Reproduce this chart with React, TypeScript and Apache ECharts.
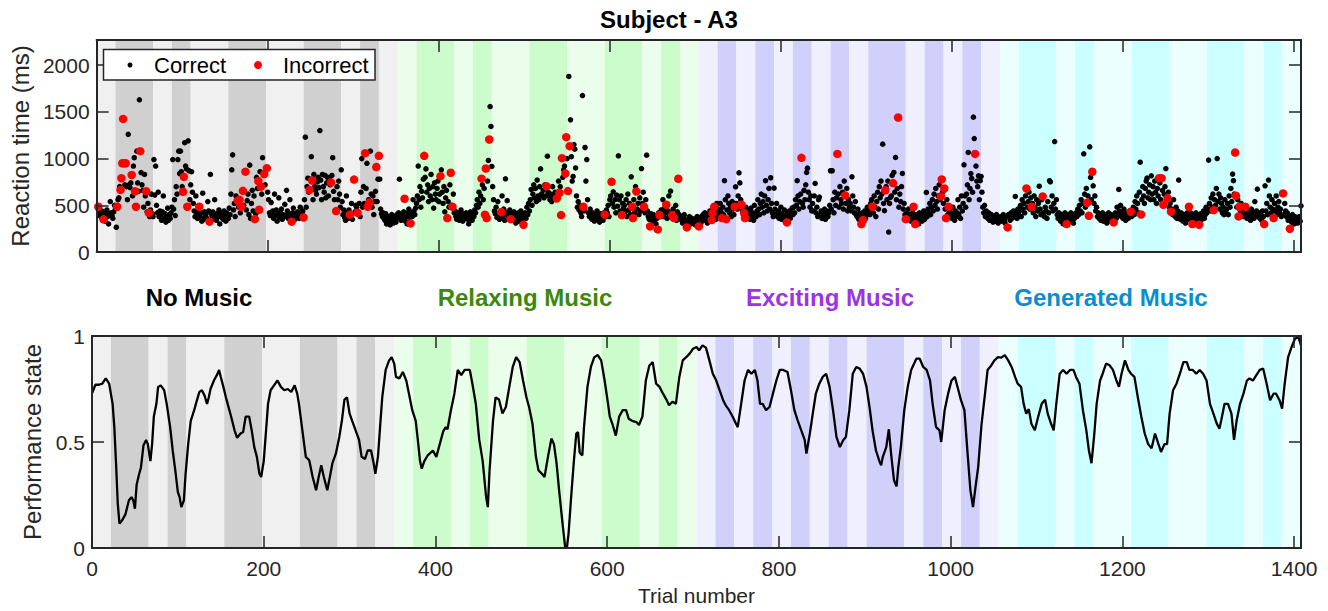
import React, { useEffect, useRef } from "react";
import * as echarts from "echarts";

// ---------- data ----------
const BLOCK_SIZE = 22;
const TOTAL_TRIALS = 1408;
const xTicks = [0, 200, 400, 600, 800, 1000, 1200, 1400];
const rtTicks = [0, 500, 1000, 1500, 2000];
const perfTicks = [0, 0.5, 1];

const conditionNames = ["No Music", "Relaxing Music", "Exciting Music", "Generated Music"];
const conditionColors = ["#000000", "#3b890b", "#9a34e6", "#0a8dd0"];
const bandLight = ["#f0f0f0", "#ebfdeb", "#efeffe", "#ebffff"];
const bandDark = ["#d0d0d0", "#ccfbcc", "#d0d0fb", "#ccffff"];
const bandPatterns = ["LDDLDLLDDLLDDLDL", "LDDLDLLDDLLDDLDL", "LDLDLDLDLDDLDLDL", "LDDLDLLDDLLDDLDL"];

// reaction times (ms), one value per trial, 22 trials per line (block)
const rtNoMusic = [
  470,430,410,390,380,440,420,400,360,330,410,450,380,300,400,540,420,390,360,430,500,470,
  265,480,560,580,700,620,800,950,1420,940,720,930,700,560,1260,720,690,740,830,600,920,1010,
  650,490,1080,740,650,1630,1090,850,720,660,480,830,600,640,430,520,410,380,450,620,410,380,
  990,610,920,500,420,640,380,440,400,340,430,600,360,410,320,380,470,340,400,360,420,480,
  990,460,560,390,700,620,990,1080,840,1080,860,700,650,800,1170,920,890,560,1190,870,560,720,
  860,640,520,440,380,600,420,360,420,490,380,420,330,630,350,430,380,410,360,540,440,330,
  830,410,380,430,350,560,390,340,410,380,450,300,420,370,400,350,440,380,330,420,400,360,
  470,400,620,880,1040,450,520,380,600,550,560,480,560,420,490,660,650,500,860,860,450,550,
  620,400,930,360,520,660,440,600,350,410,800,680,760,450,860,700,620,1010,840,1010,720,900,
  900,640,560,420,390,530,400,440,360,620,390,450,330,410,580,370,420,460,350,400,380,510,
  390,660,440,360,410,560,380,330,420,470,390,350,410,380,430,400,360,480,390,420,440,370,
  560,1230,480,700,790,640,660,780,1020,760,560,830,700,660,620,750,800,690,1300,770,560,830,
  700,640,820,580,740,800,600,780,720,740,820,1010,650,560,440,440,700,560,760,620,480,880,
  540,400,450,370,340,600,420,360,450,400,380,520,350,780,610,430,500,480,420,420,520,380,
  640,1000,480,700,520,1060,680,950,490,560,530,1080,620,480,600,400,540,650,910,540,780,1100,
  780,460,410,380,420,360,340,410,300,350,380,330,290,360,400,340,310,380,350,320,400,370,
];
const rtRelaxing = [
  420,780,380,340,400,360,430,570,330,380,300,420,460,370,306,420,380,560,440,400,470,520,
  600,920,560,700,480,650,580,780,1030,800,890,640,720,540,680,600,830,560,700,470,740,620,
  560,680,760,540,620,810,880,640,520,700,430,580,660,363,540,480,720,850,500,480,620,420,
  440,380,350,420,390,340,400,450,370,330,410,380,360,420,390,350,300,400,430,370,340,410,
  380,450,420,500,560,480,640,520,600,785,720,560,680,400,894,363,760,980,1205,1557,1344,916,
  700,560,440,410,480,370,540,400,350,430,427,600,380,460,340,784,420,550,390,360,450,352,
  410,380,340,430,370,310,400,360,420,330,380,440,350,400,292,380,420,360,480,400,520,440,
  560,670,500,620,720,580,680,540,770,600,560,700,890,620,600,660,580,720,600,705,1026,640,
  600,560,620,540,700,600,580,640,560,574,620,760,634,700,395,1005,800,880,920,841,1230,1000,
  652,1880,1133,1415,1020,760,809,1150,1101,900,600,480,540,450,500,420,380,1675,484,440,1119,760,
  990,560,420,380,460,400,350,420,380,330,400,370,440,350,390,320,410,360,380,340,420,400,
  380,450,420,500,380,560,600,752,520,645,480,560,420,610,490,1030,560,440,600,395,520,470,
  500,430,560,380,620,450,520,400,805,484,363,560,420,700,648,460,520,400,580,440,894,520,
  640,484,420,560,1037,440,380,350,274,410,360,320,400,340,380,300,360,242,420,752,380,450,
  410,560,380,470,420,506,360,440,600,390,652,420,395,460,363,380,500,340,430,784,400,360,
  380,340,310,360,400,330,290,263,350,320,380,340,300,360,330,310,350,290,340,380,320,274,
];
const rtExciting = [
  350,300,380,330,400,360,420,340,380,310,400,360,440,380,342,417,460,484,400,350,520,420,
  460,380,520,430,363,480,400,763,560,352,450,600,520,420,480,380,540,460,400,484,698,520,
  460,600,848,740,560,506,440,417,363,380,480,420,360,440,400,350,470,380,420,340,500,400,
  380,440,560,460,400,520,620,480,540,420,600,763,500,440,560,680,460,795,520,420,380,684,
  460,400,520,380,440,360,420,480,350,400,370,450,330,390,317,420,380,440,360,410,470,400,
  480,420,560,500,763,600,460,540,620,1008,520,480,660,560,720,852,898,640,560,480,600,440,
  520,440,600,734,420,480,380,560,588,400,440,360,420,380,460,350,400,440,380,420,500,870,
  460,870,560,420,640,500,580,1050,620,480,700,560,520,640,460,760,606,520,680,440,560,480,
  520,440,805,600,480,420,540,400,380,460,350,410,370,299,420,342,380,440,360,400,480,420,
  460,400,520,560,484,420,600,480,380,540,640,460,700,580,760,620,1155,520,442,660,700,560,
  760,214,520,585,600,820,738,852,640,1012,560,680,1440,480,620,540,700,841,460,520,400,352,
  420,380,460,350,400,330,380,420,484,360,299,400,340,380,300,420,360,400,330,380,440,350,
  400,638,380,460,420,520,400,480,560,440,620,500,680,540,460,600,720,560,595,777,640,520,
  680,460,363,560,400,484,440,380,420,360,480,400,340,440,380,420,560,400,480,360,600,440,
  520,934,600,480,620,720,1066,560,680,840,787,640,1444,1215,1050,920,760,700,816,560,763,809,
  640,480,420,500,380,440,400,360,420,340,380,400,350,320,380,360,330,400,350,310,370,340,
];
const rtGenerated = [
  380,330,360,400,340,310,370,263,350,400,380,340,420,360,390,440,380,595,420,360,460,400,
  440,500,380,560,460,520,420,600,680,480,540,640,460,580,484,520,420,600,480,380,560,440,
  520,705,460,400,560,595,420,380,480,440,360,540,420,763,752,480,600,440,520,1183,460,560,
  400,360,420,380,330,400,350,300,380,420,340,299,360,400,330,380,420,350,390,310,360,400,
  420,380,460,400,500,440,560,420,520,1051,620,480,680,527,600,388,1126,798,560,859,709,520,
  600,440,480,380,420,360,400,340,380,420,330,370,400,350,310,380,420,360,330,400,370,340,
  317,380,420,360,480,400,670,440,500,380,420,360,460,400,340,380,420,360,400,440,431,380,
  420,480,400,540,460,600,520,420,640,962,402,560,700,600,520,680,760,791,580,640,720,560,
  816,620,700,560,760,640,520,680,600,791,740,560,791,660,506,620,700,894,560,577,640,480,
  520,431,460,400,560,420,380,480,360,440,770,400,350,420,380,330,400,360,310,380,420,350,
  484,380,420,360,299,400,340,380,420,360,330,400,292,370,410,350,390,440,360,400,480,420,
  460,984,520,440,580,480,620,449,560,500,680,1001,540,620,460,580,520,420,480,400,560,440,
  460,520,400,600,480,680,540,834,763,620,1065,602,480,560,381,484,440,520,400,460,380,484,
  484,420,360,440,380,400,340,460,380,420,360,540,400,440,673,380,420,360,400,340,440,380,
  299,709,440,520,400,770,600,480,420,560,460,363,520,440,600,400,480,540,420,460,380,627,
  460,400,520,440,380,420,340,380,249,360,320,400,340,300,380,330,360,310,350,380,330,495,
];

// incorrect trials (trial index) and their reaction times (ms)
const incorrectTrials = [
  1,7,23,27,28,29,30,31,33,40,44,45,50,57,60,
  100,101,105,119,131,164,166,168,170,173,184,188,189,191,195,198,227,241,248,251,273,279,
  295,300,304,313,316,318,326,329,359,366,382,401,409,413,415,449,453,454,455,458,472,483,498,
  525,537,540,542,543,547,548,550,552,568,
  593,601,613,625,626,630,639,646,655,657,665,672,674,679,689,703,718,719,721,730,735,745,753,756,757,806,823,
  865,874,893,895,906,921,930,936,945,954,956,986,987,990,992,995,1026,1064,1086,1092,1105,1133,
  1157,1159,1163,1188,1208,1220,1241,1244,1246,1251,1255,1276,1280,1288,1305,1330,1331,1334,1335,1342,1364,1375,1386,1394,
];
const incorrectRT = [
  485,350,485,665,790,950,1425,950,950,825,650,485,1080,650,420,
  645,805,485,485,325,550,560,485,655,860,352,760,452,700,835,898,325,370,665,765,745,438,
  400,775,420,1058,485,530,910,1030,570,306,1030,812,363,848,485,785,400,894,363,1205,427,352,292,
  705,574,634,395,1005,841,1230,652,1133,484,
  400,752,395,484,363,648,484,274,242,395,506,395,363,784,263,274,342,417,484,363,352,484,506,417,363,317,1008,
  1050,606,299,342,484,660,738,1440,352,484,299,595,777,680,363,484,1050,263,680,484,595,299,
  527,388,859,317,431,402,791,791,506,577,431,484,299,292,449,1065,602,381,484,484,299,363,627,249,
];

// performance state, sampled along the trials
const perfTrials = [
  0,4,8,12,16,20,24,26,28,30,32,35,39,43,46,48,50,52,55,57,60,63,65,68,70,72,75,77,80,84,87,91,94,97,100,102,104,107,109,
  112,115,119,121,125,128,131,134,136,138,142,146,148,150,153,156,158,162,166,169,173,176,179,183,186,189,192,195,197,
  200,203,205,208,212,216,220,224,228,232,236,239,241,245,249,253,257,261,264,267,270,274,277,280,284,288,291,294,297,
  300,303,307,311,314,318,321,325,328,330,333,336,338,342,346,349,352,354,358,362,366,370,373,377,380,382,384,387,391,397,
  401,405,409,412,414,418,422,426,430,434,440,443,447,451,455,459,461,463,467,470,474,478,482,486,490,494,498,
  502,506,509,513,517,520,524,527,531,535,538,541,544,548,551,553,555,558,561,564,566,568,571,573,577,581,585,589,593,597,
  601,603,606,610,614,618,622,625,629,634,637,641,645,649,653,657,661,665,669,672,676,680,684,688,692,696,
  700,704,707,711,715,719,723,727,731,735,738,742,746,750,752,756,760,764,768,772,775,778,781,785,789,793,797,
  801,805,810,814,818,822,826,830,832,836,840,843,847,851,855,859,863,867,871,875,878,882,886,890,894,898,
  902,906,909,913,917,919,921,925,928,931,934,937,939,942,946,950,954,960,964,968,972,976,979,983,987,989,993,997,
  1001,1005,1009,1012,1016,1020,1023,1026,1029,1032,1036,1040,1043,1047,1051,1055,1059,1063,1067,1071,1075,1078,1082,1085,1088,1091,1094,1098,
  1102,1106,1110,1113,1117,1120,1123,1127,1131,1135,1139,1143,1146,1150,1154,1158,1161,1164,1167,1170,1174,1177,1181,1185,1189,1193,1196,1199,
  1203,1207,1210,1214,1218,1222,1226,1230,1234,1238,1242,1245,1249,1252,1255,1259,1263,1267,1271,1275,1278,1282,1286,1290,1294,1298,
  1302,1306,1310,1313,1315,1319,1323,1327,1330,1333,1337,1341,1345,1348,1352,1356,1360,1364,1368,1372,1376,1379,1383,1386,1389,1393,1397,
  1401,1405,1408,
];
const perfValues = [
  0.73,0.77,0.77,0.775,0.80,0.775,0.68,0.57,0.40,0.21,0.115,0.13,0.16,0.225,0.24,0.225,0.185,0.30,0.35,0.38,0.485,0.51,0.49,0.41,0.49,0.62,0.68,0.76,0.767,0.745,0.68,0.57,0.46,0.366,0.264,0.24,0.193,0.225,0.35,
  0.49,0.60,0.65,0.68,0.736,0.744,0.72,0.68,0.71,0.75,0.79,0.82,0.84,0.807,0.76,0.71,0.68,0.62,0.555,0.52,0.54,0.547,0.62,0.62,0.555,0.476,0.43,0.35,0.335,
  0.41,0.57,0.68,0.744,0.767,0.79,0.76,0.744,0.75,0.736,0.767,0.728,0.68,0.555,0.43,0.414,0.335,0.272,0.335,0.39,0.335,0.272,0.335,0.40,0.445,0.524,0.60,0.70,0.71,
  0.634,0.60,0.555,0.51,0.43,0.42,0.46,0.46,0.40,0.35,0.43,0.60,0.71,0.84,0.885,0.90,0.87,0.807,0.80,0.83,0.79,0.71,0.65,0.60,0.49,0.41,0.374,0.41,0.437,0.46,
  0.43,0.49,0.55,0.57,0.56,0.65,0.728,0.84,0.815,0.84,0.84,0.775,0.68,0.51,0.41,0.24,0.193,0.366,0.60,0.71,0.70,0.634,0.665,0.76,0.854,0.90,0.877,
  0.79,0.71,0.665,0.586,0.43,0.366,0.35,0.335,0.43,0.516,0.49,0.40,0.272,0.115,0.005,0.0,0.068,0.24,0.40,0.54,0.547,0.45,0.437,0.57,0.76,0.854,0.90,0.91,0.885,0.79,
  0.68,0.62,0.586,0.53,0.62,0.65,0.65,0.61,0.60,0.594,0.58,0.62,0.79,0.86,0.877,0.775,0.76,0.728,0.70,0.673,0.69,0.68,0.807,0.885,0.90,0.917,
  0.94,0.948,0.932,0.956,0.945,0.885,0.822,0.79,0.744,0.697,0.673,0.65,0.62,0.586,0.57,0.68,0.79,0.84,0.822,0.84,0.79,0.68,0.68,0.65,0.665,0.728,0.79,
  0.84,0.84,0.83,0.744,0.65,0.60,0.555,0.51,0.445,0.54,0.65,0.728,0.775,0.807,0.822,0.76,0.65,0.524,0.476,0.51,0.524,0.65,0.822,0.854,0.846,0.822,
  0.76,0.65,0.555,0.46,0.41,0.39,0.43,0.476,0.56,0.43,0.32,0.29,0.38,0.476,0.65,0.76,0.84,0.893,0.893,0.854,0.84,0.79,0.68,0.57,0.555,0.50,0.65,0.728,
  0.79,0.807,0.744,0.697,0.65,0.43,0.272,0.193,0.29,0.38,0.586,0.728,0.84,0.86,0.885,0.90,0.898,0.91,0.885,0.854,0.807,0.775,0.76,0.68,0.634,0.655,0.586,0.555,
  0.62,0.68,0.70,0.634,0.586,0.555,0.68,0.822,0.84,0.822,0.84,0.84,0.807,0.775,0.65,0.555,0.46,0.40,0.524,0.68,0.79,0.822,0.87,0.862,0.84,0.79,0.76,0.822,
  0.885,0.84,0.822,0.807,0.71,0.62,0.54,0.49,0.47,0.54,0.49,0.453,0.49,0.49,0.634,0.744,0.775,0.822,0.877,0.877,0.84,0.84,0.822,0.84,0.822,0.79,
  0.68,0.634,0.586,0.563,0.60,0.68,0.68,0.634,0.51,0.60,0.68,0.728,0.79,0.80,0.79,0.815,0.84,0.846,0.775,0.697,0.728,0.728,0.697,0.657,0.775,0.90,0.948,
  0.987,0.995,0.956,
];

// ---------- derived ----------
const rtAll = [...rtNoMusic, ...rtRelaxing, ...rtExciting, ...rtGenerated];
const incorrectSet = new Set(incorrectTrials);
const correctPoints: number[][] = [];
rtAll.forEach((v, i) => {
  if (!incorrectSet.has(i)) correctPoints.push([i + 1, v]);
});
const incorrectPoints = incorrectTrials.map((t, k) => [t + 1, incorrectRT[k]]);
const perfPoints = perfTrials.map((t, k) => [t, perfValues[k]]);

function buildBands() {
  const areas: any[] = [];
  const blocksPerCondition = bandPatterns[0].length;
  bandPatterns.forEach((pattern, c) => {
    let b = 0;
    while (b < pattern.length) {
      let e = b;
      while (e + 1 < pattern.length && pattern[e + 1] === pattern[b]) e++;
      const start = (c * blocksPerCondition + b) * BLOCK_SIZE;
      const end = (c * blocksPerCondition + e + 1) * BLOCK_SIZE;
      const color = pattern[b] === "D" ? bandDark[c] : bandLight[c];
      areas.push([{ xAxis: start, itemStyle: { color, opacity: 1 } }, { xAxis: end }]);
      b = e + 1;
    }
  });
  return areas;
}

const FONT = "'Liberation Sans', Arial, Helvetica, sans-serif";
const AXIS_COLOR = "#262626";

function xAxisDef(gridIndex: number, position: "top" | "bottom", withLabels: boolean): any {
  return {
    type: "value",
    gridIndex,
    position,
    min: 0,
    max: TOTAL_TRIALS,
    interval: 200,
    z: 10,
    axisLine: { show: true, onZero: false, lineStyle: { color: AXIS_COLOR, width: 2 } },
    axisTick: { show: true, inside: true, length: 12, lineStyle: { color: AXIS_COLOR, width: 1.5 } },
    splitLine: { show: false },
    axisLabel: {
      show: withLabels,
      margin: 10,
      color: AXIS_COLOR,
      fontSize: 21,
      fontFamily: FONT,
      formatter: (v: number) => (xTicks.includes(v) ? String(v) : ""),
    },
    name: withLabels ? "Trial number" : "",
    nameLocation: "middle",
    nameGap: 37,
    nameTextStyle: { color: AXIS_COLOR, fontSize: 21, fontFamily: FONT },
  };
}

function yAxisDef(gridIndex: number, position: "left" | "right", max: number, interval: number, ticks: number[], name: string, nameGap: number): any {
  const withLabels = position === "left";
  return {
    type: "value",
    gridIndex,
    position,
    min: 0,
    max,
    interval,
    z: 10,
    axisLine: { show: true, onZero: false, lineStyle: { color: AXIS_COLOR, width: 2 } },
    axisTick: { show: true, inside: true, length: 12, lineStyle: { color: AXIS_COLOR, width: 1.5 } },
    splitLine: { show: false },
    axisLabel: {
      show: withLabels,
      margin: 7,
      color: AXIS_COLOR,
      fontSize: 21,
      fontFamily: FONT,
      formatter: (v: number) => (ticks.some((t) => Math.abs(t - v) < 1e-9) ? String(v) : ""),
    },
    name: withLabels ? name : "",
    nameLocation: "middle",
    nameGap,
    nameTextStyle: { color: AXIS_COLOR, fontSize: 24, fontFamily: FONT },
  };
}

export default function App() {
  const ref = useRef<HTMLDivElement>(null);

  useEffect(() => {
    if (!ref.current) return;
    const chart = echarts.init(ref.current, undefined, { renderer: "svg" });
    const bands = buildBands();
    const labelX = [199, 525, 830, 1111];

    const option: any = {
      animation: false,
      backgroundColor: "#ffffff",
      grid: [
        { left: 92, top: 40, width: 1209, height: 212 },
        { left: 92, top: 336, width: 1209, height: 212 },
      ],
      xAxis: [
        xAxisDef(0, "bottom", false),
        xAxisDef(0, "top", false),
        xAxisDef(1, "bottom", true),
        xAxisDef(1, "top", false),
      ],
      yAxis: [
        yAxisDef(0, "left", 2270, 500, rtTicks, "Reaction time (ms)", 56),
        yAxisDef(0, "right", 2270, 500, rtTicks, "", 0),
        yAxisDef(1, "left", 1, 0.5, perfTicks, "Performance state", 38),
        yAxisDef(1, "right", 1, 0.5, perfTicks, "", 0),
      ],
      series: [
        {
          type: "line",
          xAxisIndex: 0,
          yAxisIndex: 0,
          data: [],
          silent: true,
          z: 0,
          markArea: { silent: true, label: { show: false }, itemStyle: { opacity: 1 }, data: bands },
        },
        {
          name: "Correct",
          type: "scatter",
          xAxisIndex: 0,
          yAxisIndex: 0,
          data: correctPoints,
          symbol: "circle",
          symbolSize: 5.5,
          itemStyle: { color: "#000000", opacity: 1 },
          z: 3,
        },
        {
          name: "Incorrect",
          type: "scatter",
          xAxisIndex: 0,
          yAxisIndex: 0,
          data: incorrectPoints,
          symbol: "circle",
          symbolSize: 8.5,
          itemStyle: { color: "#ff0000", opacity: 1 },
          z: 4,
        },
        {
          type: "line",
          xAxisIndex: 2,
          yAxisIndex: 2,
          data: [],
          silent: true,
          z: 0,
          markArea: { silent: true, label: { show: false }, itemStyle: { opacity: 1 }, data: bands },
        },
        {
          name: "Performance state",
          type: "line",
          xAxisIndex: 2,
          yAxisIndex: 2,
          data: perfPoints,
          showSymbol: false,
          symbol: "none",
          lineStyle: { color: "#000000", width: 2.3 },
          z: 3,
        },
      ],
      graphic: [
        {
          type: "text",
          x: 669,
          y: 19,
          z: 20,
          style: {
            text: "Subject - A3",
            fill: "#000000",
            font: `bold 24px ${FONT}`,
            textAlign: "center",
            textVerticalAlign: "middle",
          },
        },
        ...conditionNames.map((name, i) => ({
          type: "text",
          x: labelX[i],
          y: 297,
          z: 20,
          style: {
            text: name,
            fill: conditionColors[i],
            font: `bold 24px ${FONT}`,
            textAlign: "center",
            textVerticalAlign: "middle",
          },
        })),
        {
          type: "group",
          z: 30,
          children: [
            {
              type: "rect",
              shape: { x: 103.5, y: 49.5, width: 271.5, height: 30.5 },
              style: { fill: "#ffffff", stroke: AXIS_COLOR, lineWidth: 1.5 },
              z: 30,
            },
            { type: "circle", shape: { cx: 130, cy: 65, r: 2.5 }, style: { fill: "#000000" }, z: 31 },
            {
              type: "text",
              x: 154,
              y: 65,
              z: 31,
              style: { text: "Correct", fill: "#000000", font: `22px ${FONT}`, textVerticalAlign: "middle" },
            },
            { type: "circle", shape: { cx: 258, cy: 65, r: 4 }, style: { fill: "#ff0000" }, z: 31 },
            {
              type: "text",
              x: 283,
              y: 65,
              z: 31,
              style: { text: "Incorrect", fill: "#000000", font: `22px ${FONT}`, textVerticalAlign: "middle" },
            },
          ],
        },
      ],
    };

    chart.setOption(option);
    return () => chart.dispose();
  }, []);

  return (
    <div
      ref={ref}
      style={{ position: "absolute", left: 0, top: 0, width: 1328, height: 611, background: "#ffffff" }}
    />
  );
}
